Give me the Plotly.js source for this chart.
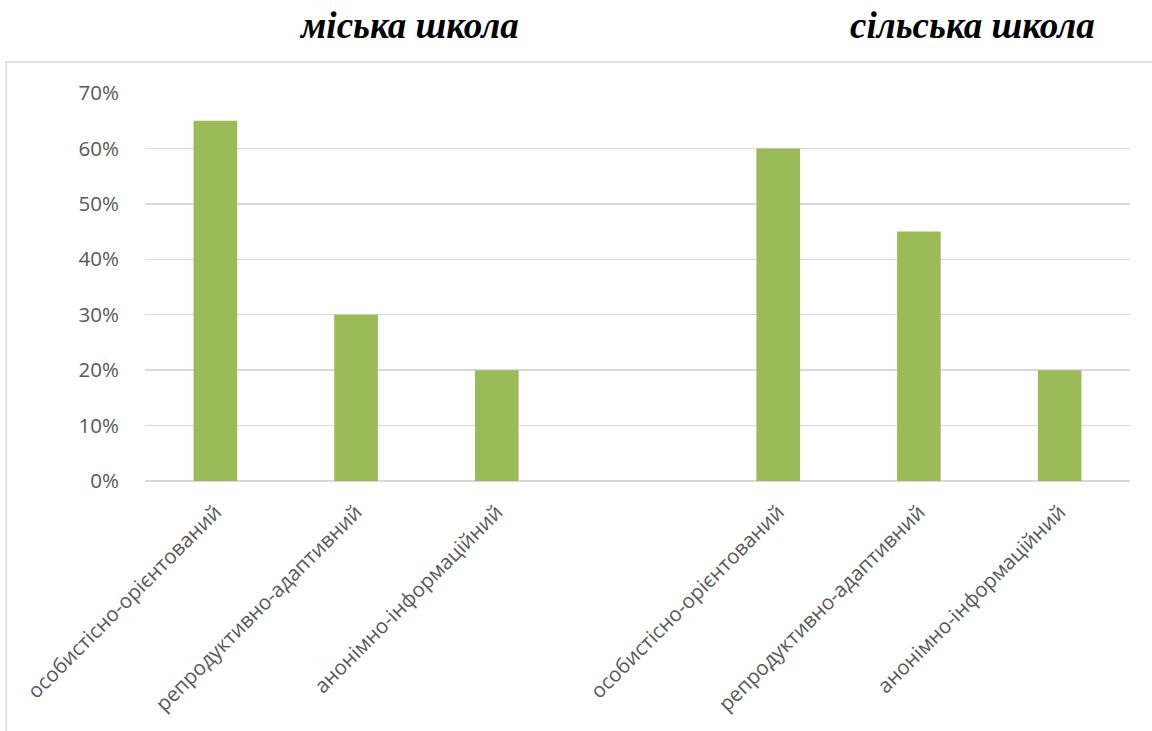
<!DOCTYPE html>
<html>
<head>
<meta charset="utf-8">
<script src="https://cdn.plot.ly/plotly-3.0.1.min.js"></script>
<style>html,body{margin:0;padding:0;background:#fff;}#chart{width:1152px;height:731px;}</style>
</head>
<body>
<div id="chart"></div>
<script>
const categories = ["особистісно-орієнтований","репродуктивно-адаптивний","анонімно-інформаційний","","особистісно-орієнтований","репродуктивно-адаптивний","анонімно-інформаційний"];
const values = [0.65, 0.30, 0.20, null, 0.60, 0.45, 0.20];
const groupTitles = ["міська школа", "сільська школа"];
const yTickVals = [0, 0.1, 0.2, 0.3, 0.4, 0.5, 0.6, 0.7];

const positions = categories.map((c, i) => i);

const trace = {
  type: 'bar',
  x: positions,
  y: values,
  width: 0.31,
  marker: {color: '#9bbb59'},
  hoverinfo: 'skip'
};

const titleFont = {family: 'Liberation Serif, Times New Roman, serif', size: 37, color: '#000000', weight: 'bold', style: 'italic'};

const layout = {
  width: 1152, height: 731,
  margin: {l: 145, r: 22, t: 93, b: 250},
  paper_bgcolor: '#ffffff', plot_bgcolor: '#ffffff',
  showlegend: false,
  font: {family: 'Open Sans, Liberation Sans, sans-serif', color: '#595959'},
  xaxis: {
    type: 'linear', range: [-0.5, 6.5],
    tickmode: 'array', tickvals: positions, ticktext: categories,
    tickangle: -45, ticks: 'outside', ticklen: 10, tickcolor: 'rgba(0,0,0,0)',
    tickfont: {size: 20.5, color: '#595959'},
    showgrid: false, zeroline: false, showline: false, fixedrange: true
  },
  yaxis: {
    range: [0, 0.7], tickmode: 'array', tickvals: yTickVals,
    tickformat: '.0%', ticks: 'outside', ticklen: 21, tickcolor: 'rgba(0,0,0,0)',
    tickfont: {size: 20.5, color: '#595959'},
    showgrid: true, gridcolor: '#d9d9d9', gridwidth: 1.5,
    zeroline: true, zerolinecolor: '#d9d9d9', zerolinewidth: 1.5,
    showline: false, fixedrange: true
  },
  shapes: [{
    type: 'rect', xref: 'paper', yref: 'paper',
    x0: -0.141, x1: 1.1, y0: -1.2, y1: 1.080,
    line: {color: '#d9d9d9', width: 1.5}, fillcolor: 'rgba(0,0,0,0)', layer: 'below'
  }],
  annotations: [
    {text: groupTitles[0], xref: 'x', yref: 'paper', x: 1.373, y: 1.173, yanchor: 'middle', xanchor: 'center', showarrow: false, font: titleFont},
    {text: groupTitles[1], xref: 'x', yref: 'paper', x: 5.38, y: 1.173, yanchor: 'middle', xanchor: 'center', showarrow: false, font: titleFont}
  ]
};

Plotly.newPlot('chart', [trace], layout, {displayModeBar: false, staticPlot: true});
</script>
</body>
</html>
